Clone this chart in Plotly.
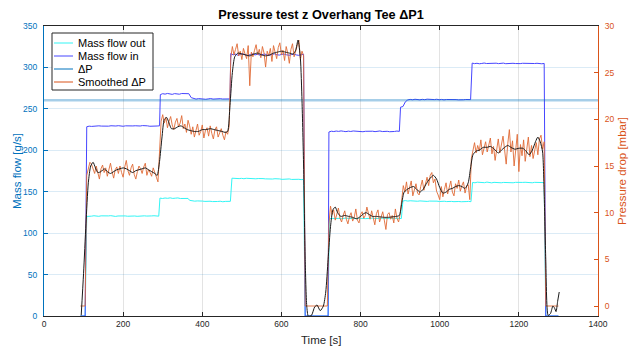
import numpy as np
import plotly.graph_objects as go

# ---------------- data ----------------
# Mass flow into the tee [g/s]: (start, end) of each recorded block and its samples
flow_in_spans = [(92, 104), (108, 292), (294, 366), (372, 470), (472, 656),
                 (660, 718), (720, 898), (901, 1078), (1082, 1264), (1268, 1300)]
flow_in_blocks = [
    [0, 0],
    [228.4, 229.1, 228.8, 229.3, 229.0, 229.5, 229.2, 228.9, 229.4, 229.1, 229.6, 229.0, 229.3,
     229.7, 229.2, 229.0, 229.5, 229.3, 228.9, 229.4, 229.6, 229.1, 229.3, 229.8, 229.2, 229.5,
     229.0, 229.4, 229.7, 229.3, 229.5],
    [267.2, 268.3, 267.8, 268.6, 268.0, 267.5, 268.4, 268.1, 267.7, 268.5, 268.2, 267.9, 268.3],
    [263.5, 262.3, 261.8, 262.4, 261.9, 262.2, 261.6, 262.0, 262.5, 261.8, 262.1, 261.7, 262.3,
     261.9, 262.2, 261.6, 262.0],
    [316.8, 315.2, 316.0, 314.6, 315.8, 316.5, 315.0, 314.2, 315.6, 316.3, 315.1, 315.9, 314.8,
     315.4, 316.2, 315.0, 314.5, 315.7, 316.4, 315.3, 314.9, 315.8, 316.1, 315.2, 314.7, 315.5,
     316.0, 315.1, 314.6, 315.4, 315.9],
    [0, 0],
    [222.1, 223.0, 222.6, 223.2, 222.8, 223.4, 222.9, 222.5, 223.1, 222.7, 223.3, 222.9, 222.6,
     223.0, 222.4, 222.9, 223.2, 222.7, 223.0, 222.5, 222.8, 223.3, 222.6, 223.1, 222.9, 222.4,
     223.0, 222.7, 223.2, 222.8],
    [252.0, 252.8, 258.5, 260.8, 261.4, 261.0, 261.6, 261.2, 260.9, 261.5, 261.1, 261.7, 261.3,
     260.8, 261.2, 261.6, 261.0, 261.4, 260.9, 261.3, 261.5, 261.1, 261.7, 261.2, 260.9, 261.4,
     261.0, 261.3, 261.6, 261.2],
    [305.2, 304.6, 305.0, 304.4, 304.8, 305.3, 304.7, 304.9, 304.3, 304.8, 305.1, 304.6, 304.9,
     305.2, 304.5, 304.8, 304.4, 305.0, 304.7, 304.2, 304.6, 305.0, 304.8, 304.5, 304.9, 304.3,
     304.7, 305.0, 304.6, 304.4, 304.8],
    [0, 0],
]

# Mass flow out of the tee [g/s]
flow_out_spans = [(92, 104), (108, 290), (293, 364), (368, 471), (475, 656),
                  (660, 718), (721, 903), (907, 1079), (1083, 1264), (1268, 1300)]
flow_out_blocks = [
    [0, 0],
    [120.2, 120.8, 120.5, 121.0, 120.6, 120.3, 120.9, 120.7, 120.4, 120.8, 121.1, 120.6, 120.2,
     120.7, 120.9, 120.5, 120.8, 120.4, 120.6, 121.0, 120.7, 120.3, 120.8, 120.5, 120.9, 120.6,
     120.4, 120.8, 121.0, 120.6, 120.5],
    [142.3, 141.8, 142.4, 142.0, 142.6, 141.9, 142.2, 142.5, 141.8, 142.1, 142.4, 141.9],
    [139.6, 139.0, 138.6, 138.9, 138.4, 138.7, 138.3, 138.8, 138.5, 138.1, 138.6, 138.2, 138.5,
     137.9, 138.3, 138.0, 138.4],
    [166.3, 166.0, 166.4, 165.8, 166.1, 165.7, 166.2, 165.9, 165.5, 166.0, 165.6, 165.9, 165.4,
     165.8, 165.5, 165.2, 165.6, 165.3, 165.7, 165.1, 165.4, 164.9, 165.3, 165.0, 165.4, 164.8,
     165.1, 164.7, 165.0, 164.6, 164.9],
    [0, 0],
    [117.3, 118.0, 117.6, 118.1, 117.8, 117.4, 117.9, 118.2, 117.7, 117.5, 118.0, 117.6, 117.9,
     118.3, 117.8, 117.5, 117.9, 117.6, 118.1, 117.7, 117.4, 117.8, 118.0, 117.6, 117.9, 117.5,
     117.8, 118.1, 117.7, 117.9, 117.6],
    [138.8, 139.3, 138.7, 139.1, 138.6, 139.0, 138.5, 138.9, 138.4, 138.8, 138.3, 138.7, 138.9,
     138.4, 138.6, 138.2, 138.7, 138.5, 138.1, 138.6, 138.3, 138.0, 138.5, 138.2, 137.9, 138.4,
     138.1, 138.3, 138.0],
    [161.2, 160.8, 161.5, 161.0, 161.4, 160.9, 161.6, 161.1, 160.7, 161.3, 161.0, 161.4, 160.8,
     161.2, 160.9, 161.5, 161.1, 160.8, 161.3, 161.0, 160.7, 161.2, 161.4, 160.9, 161.1, 160.8,
     161.3, 161.0, 160.9, 161.2, 161.0],
    [0, 0],
]

# Reference pressure-drop level drawn on the flow axis
dp_reference_level = 260.5

# Measured pressure drop [mbar], sampled every ~4 s
dp_spans = [(92, 104), (108, 288), (292, 468), (472, 656), (660, 716),
            (720, 900), (904, 1076), (1080, 1264), (1268, 1300)]
dp_blocks = [
    [0, 0, 0, 0],
    [14.0, 14.8, 15.4, 15.2, 14.6, 14.2, 15.0, 14.1, 13.6, 14.7, 15.1, 14.3, 14.8, 13.9, 14.5,
     15.3, 14.4, 13.7, 14.6, 14.9, 14.2, 15.0, 14.3, 13.8, 14.9, 15.6, 14.5, 14.0, 14.8, 15.2,
     14.1, 13.6, 14.4, 15.0, 14.7, 14.2, 14.9, 15.3, 14.0, 14.6, 14.3, 13.9, 14.8, 14.4, 13.8,
     13.3],
    [16.5, 19.8, 20.5, 19.6, 20.2, 19.1, 19.8, 20.3, 19.4, 18.9, 19.7, 20.1, 19.2, 19.6, 20.4,
     19.0, 19.5, 18.6, 19.9, 19.3, 18.4, 19.2, 18.1, 18.9, 19.5, 18.3, 18.7, 19.4, 18.0, 18.8,
     19.1, 18.2, 19.3, 18.5, 17.9, 18.9, 19.2, 18.1, 18.6, 19.0, 18.3, 17.8, 18.7, 18.4, 19.3],
    [26.6, 27.8, 26.9, 27.5, 28.1, 26.8, 27.3, 26.4, 27.6, 27.0, 26.5, 27.9, 23.6, 27.2, 26.7,
     27.4, 28.0, 26.9, 27.5, 26.6, 27.8, 27.1, 25.6, 27.3, 26.8, 27.6, 26.2, 27.9, 27.0, 26.5,
     27.7, 28.2, 26.9, 27.4, 26.3, 27.8, 27.1, 26.0, 27.5, 28.1, 26.7, 27.2, 27.9, 28.5, 26.4,
     27.3, 26.8],
    [0, 0, 0, 0, 0, 0, 0, 0, 0, 0, 0, 0, 0, 0, 0],
    [8.8, 10.7, 9.8, 10.3, 9.2, 9.9, 10.5, 9.4, 9.0, 9.7, 10.2, 9.3, 8.8, 9.6, 10.0, 9.1, 9.5,
     10.4, 9.2, 8.9, 9.8, 10.1, 9.4, 9.7, 10.6, 9.9, 9.3, 10.2, 9.5, 8.7, 9.9, 10.3, 9.0, 9.6,
     10.1, 9.2, 8.2, 9.8, 10.0, 9.3, 9.7, 8.9, 10.4, 9.4, 9.0, 9.8],
    [11.4, 12.9, 12.2, 13.3, 12.0, 12.7, 13.4, 11.8, 12.6, 13.1, 12.1, 11.9, 12.8, 13.5, 12.4,
     13.0, 13.8, 12.9, 14.0, 14.3, 13.2, 13.6, 12.3, 11.9, 11.4, 12.8, 11.7, 12.5, 13.2, 12.0,
     12.7, 13.4, 12.2, 11.8, 13.1, 12.6, 13.5, 12.3, 12.9, 13.3, 12.1, 12.8, 13.0, 11.4],
    [15.8, 16.9, 17.5, 16.4, 17.2, 16.6, 17.8, 16.2, 17.0, 17.6, 16.5, 17.3, 18.0, 16.3, 17.1,
     15.6, 16.8, 17.9, 16.4, 17.2, 18.2, 16.7, 15.2, 17.4, 18.9, 16.5, 17.7, 15.0, 16.9, 18.4,
     14.4, 17.3, 16.1, 17.8, 15.5, 16.7, 18.1, 16.0, 17.2, 15.8, 16.6, 17.5, 16.2, 17.9, 18.3,
     16.8, 17.6],
    [0, 0, 0, 0, 0, 0, 0, 0, 0],
]

# Smoothed pressure drop [mbar]
dp_smooth_t = [94, 100, 106, 112, 118, 124, 130, 136, 144, 152, 160, 168, 176, 184, 192, 200,
               208, 216, 224, 232, 240, 248, 256, 264, 272, 280, 286, 292, 298, 304, 310, 316,
               322, 330, 338, 346, 354, 362, 370, 380, 390, 400, 410, 420, 430, 440, 450, 458,
               464, 470, 476, 482, 490, 500, 510, 520, 530, 540, 550, 560, 570, 580, 590, 600,
               610, 620, 630, 636, 642, 648, 652, 656, 660, 664, 668, 676, 684, 690, 698, 706,
               712, 718, 724, 730, 736, 742, 750, 760, 770, 780, 790, 800, 808, 814, 822, 830,
               840, 850, 860, 870, 880, 890, 898, 904, 910, 918, 926, 934, 942, 950, 958, 966,
               974, 984, 992, 1000, 1008, 1016, 1024, 1032, 1040, 1048, 1056, 1064, 1072, 1078,
               1084, 1092, 1100, 1110, 1120, 1128, 1138, 1148, 1156, 1164, 1172, 1180, 1190,
               1200, 1210, 1218, 1226, 1234, 1242, 1248, 1254, 1260, 1264, 1268, 1274, 1280,
               1286, 1290, 1294, 1298, 1302]
dp_smooth = [-1.0, 3.5, 8.8, 13.2, 15.0, 15.4, 14.8, 14.3, 14.4, 14.7, 14.4, 14.2, 14.4, 14.6,
             14.7, 14.8, 14.7, 14.5, 14.3, 14.5, 14.6, 14.7, 14.8, 14.6, 14.4, 14.2, 14.0, 15.5,
             18.0, 20.0, 20.2, 19.6, 19.0, 19.0, 19.2, 19.3, 19.1, 18.9, 18.8, 18.7, 18.7, 18.9,
             18.9, 19.0, 18.9, 18.8, 18.7, 18.6, 18.7, 21.5, 25.0, 26.7, 27.1, 27.0, 26.9, 26.8,
             27.0, 27.1, 26.9, 26.8, 26.9, 27.1, 27.2, 27.3, 27.2, 27.1, 27.0, 27.4, 28.5, 26.5,
             22.0, 15.0, 5.0, 0.0, -1.1, -1.0, -0.1, 0.1, -0.5, 0.0, 1.5, 5.0, 8.5, 10.3, 10.6,
             10.0, 9.6, 9.7, 9.6, 9.5, 9.35, 9.6, 9.9, 10.0, 9.8, 9.6, 9.6, 9.55, 9.5, 9.5,
             9.55, 9.6, 9.7, 11.0, 12.2, 12.5, 12.7, 12.8, 12.5, 12.2, 12.5, 13.1, 13.6, 14.0,
             13.6, 12.7, 12.1, 12.2, 12.5, 12.6, 12.8, 12.9, 12.8, 12.6, 13.2, 14.8, 16.2, 16.6,
             16.7, 17.0, 17.0, 17.1, 16.8, 16.4, 16.7, 17.0, 17.2, 17.0, 16.8, 16.9, 16.9, 16.6,
             16.2, 16.7, 17.6, 18.1, 17.6, 16.5, 12.0, 5.0, -1.0, -0.8, 0.0, -0.2, -0.6, 0.5, 1.5]

x_range = [0, 1400]
flow_range = [0, 350]
dp_range = [-1.07, 30]
x_ticks = [0, 200, 400, 600, 800, 1000, 1200, 1400]
flow_ticks = [0, 50, 100, 150, 200, 250, 300, 350]
dp_ticks = [0, 5, 10, 15, 20, 25, 30]


def join_blocks(spans, blocks):
    t, v = [], []
    for (a, b), vals in zip(spans, blocks):
        t.extend(np.linspace(a, b, len(vals)))
        v.extend(vals)
    return np.array(t), np.array(v)


t_in, v_in = join_blocks(flow_in_spans, flow_in_blocks)
t_out, v_out = join_blocks(flow_out_spans, flow_out_blocks)
t_dp, v_dp = join_blocks(dp_spans, dp_blocks)

# ---------------- styling ----------------
BLUE_AX = "#0072BD"
ORANGE_AX = "#D95319"
DARK = "#262626"
FONT = "Liberation Sans"

W, H = 630, 349
ML, MR, MT, MB = 44, 32, 26, 33
PW, PH = W - ML - MR, H - MT - MB


def px(x):
    return (x - ML) / PW


def py(y):
    return (MT + PH - y) / PH


fig = go.Figure()

fig.add_trace(go.Scatter(x=t_out, y=v_out, mode="lines", name="Mass flow out",
                         line=dict(color="#33f5f5", width=1), showlegend=False))
fig.add_trace(go.Scatter(x=t_in, y=v_in, mode="lines", name="Mass flow in",
                         line=dict(color="#4646ff", width=1), showlegend=False))
fig.add_trace(go.Scatter(x=x_range, y=[dp_reference_level] * 2, mode="lines", name="ΔP",
                         line=dict(color="rgba(0,114,189,0.35)", width=2.5), showlegend=False))
fig.add_trace(go.Scatter(x=t_dp, y=v_dp, mode="lines", name="Smoothed ΔP", yaxis="y2",
                         line=dict(color="#e06a35", width=0.9), showlegend=False))
fig.add_trace(go.Scatter(x=dp_smooth_t, y=dp_smooth, mode="lines", yaxis="y2",
                         line=dict(color="#1a1a1a", width=1, shape="spline", smoothing=0.6),
                         showlegend=False))

fig.update_layout(
    width=W, height=H,
    margin=dict(l=ML, r=MR, t=MT, b=MB),
    paper_bgcolor="white", plot_bgcolor="white",
    font=dict(family=FONT, color=DARK),
    title=dict(text="Pressure test z Overhang Tee ΔP1", x=0.5, xref="paper",
               y=1 - 15 / H, yref="container", xanchor="center", yanchor="middle",
               font=dict(size=12.7, weight="bold", color="black", family=FONT)),
    xaxis=dict(range=x_range, tickvals=x_ticks, showgrid=True,
               gridcolor="rgba(38,38,38,0.13)", gridwidth=1, zeroline=False,
               showline=True, linecolor=DARK, linewidth=1, mirror="ticks",
               ticks="inside", ticklen=4, tickcolor=DARK,
               tickfont=dict(size=8.5, color=DARK)),
    yaxis=dict(range=flow_range, tickvals=flow_ticks, showgrid=True,
               gridcolor="rgba(0,114,189,0.14)", gridwidth=1, zeroline=False,
               showline=True, linecolor=BLUE_AX, linewidth=1,
               ticks="inside", ticklen=4, tickcolor=BLUE_AX, ticklabelstandoff=4,
               tickfont=dict(size=8.5, color=BLUE_AX)),
    yaxis2=dict(range=dp_range, tickvals=dp_ticks, overlaying="y", side="right",
                showgrid=False, zeroline=False, showline=True, linecolor=ORANGE_AX,
                linewidth=1, ticks="inside", ticklen=4, tickcolor=ORANGE_AX,
                ticklabelstandoff=4, tickfont=dict(size=8.5, color=ORANGE_AX)),
)

# axis titles
fig.add_annotation(text="Time [s]", x=0.5, y=py(340), xref="paper", yref="paper",
                   showarrow=False, font=dict(size=11.5, color=DARK), yanchor="middle")
fig.add_annotation(text="Mass flow [g/s]", x=px(17), y=0.5, xref="paper", yref="paper",
                   showarrow=False, textangle=-90, font=dict(size=11.5, color=BLUE_AX),
                   xanchor="center", yanchor="middle")
fig.add_annotation(text="Pressure drop [mbar]", x=px(622), y=0.5, xref="paper", yref="paper",
                   showarrow=False, textangle=-90, font=dict(size=11.5, color=ORANGE_AX),
                   xanchor="center", yanchor="middle")

# legend box
legend_items = [("Mass flow out", "#33f5f5"), ("Mass flow in", "#4646ff"),
                ("ΔP", BLUE_AX), ("Smoothed ΔP", ORANGE_AX)]
fig.add_shape(type="rect", xref="paper", yref="paper", x0=px(52), x1=px(153),
              y0=py(90), y1=py(33), fillcolor="white", line=dict(color=DARK, width=1),
              layer="above")
for i, (label, col) in enumerate(legend_items):
    yy = 43 + 13 * i
    fig.add_shape(type="line", xref="paper", yref="paper", x0=px(54), x1=px(73),
                  y0=py(yy), y1=py(yy), line=dict(color=col, width=1), layer="above")
    fig.add_annotation(text=label, x=px(76), y=py(yy), xref="paper", yref="paper",
                       showarrow=False, xanchor="left", yanchor="middle",
                       font=dict(size=11, color="black"))

fig.write_html("out.html")
